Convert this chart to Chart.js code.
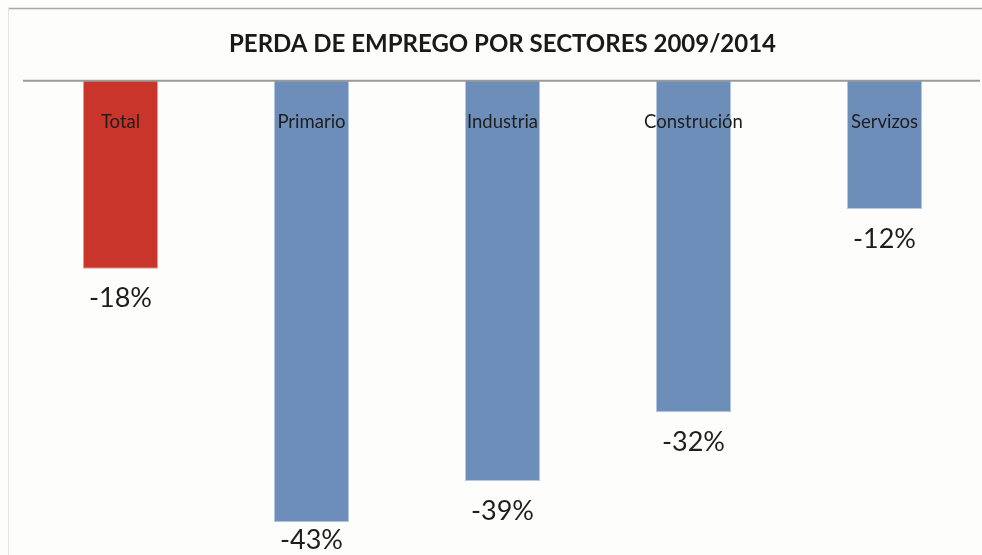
<!DOCTYPE html>
<html>
<head>
<meta charset="utf-8">
<script src="https://cdn.jsdelivr.net/npm/chart.js@4"></script>
<style>
  html, body { margin: 0; padding: 0; background: #fdfdfb; }
  #wrap { width: 982px; height: 555px; }
</style>
</head>
<body>
<div id="wrap"><canvas id="chartJSContainer"></canvas></div>
<script>
var sectors = ['Total', 'Primario', 'Industria', 'Construción', 'Servizos'];
var losses = [-18.3, -43, -39, -32.3, -12.5];
var colours = ['#c9352b', '#6e8eba', '#6e8eba', '#6e8eba', '#6e8eba'];
var borders = ['#e49a94', '#b4c8e2', '#b4c8e2', '#b4c8e2', '#b4c8e2'];
var fontName = 'Lato, "Open Sans", sans-serif';

// frame + zero line + labels on the bars
var decorations = {
  id: 'decorations',
  beforeDraw: function(chart) {
    var ctx = chart.ctx;
    ctx.save();
    ctx.strokeStyle = '#a8a8a8';
    ctx.lineWidth = 1.5;
    ctx.beginPath();
    ctx.moveTo(8, 8.5);
    ctx.lineTo(chart.width, 8.5);
    ctx.stroke();
    ctx.strokeStyle = '#e4e4e4';
    ctx.lineWidth = 1;
    ctx.beginPath();
    ctx.moveTo(8.5, 8);
    ctx.lineTo(8.5, chart.height);
    ctx.stroke();
    ctx.restore();
  },
  afterDatasetsDraw: function(chart) {
    var ctx = chart.ctx;
    var y0 = chart.scales.y.getPixelForValue(0);
    ctx.save();
    ctx.strokeStyle = '#9a9a9a';
    ctx.lineWidth = 2;
    ctx.beginPath();
    ctx.moveTo(chart.chartArea.left - 2, y0);
    ctx.lineTo(chart.chartArea.right, y0);
    ctx.stroke();

    var meta = chart.getDatasetMeta(0);
    ctx.textAlign = 'center';
    ctx.textBaseline = 'middle';
    ctx.fillStyle = '#1e1e1e';
    meta.data.forEach(function(bar, i) {
      ctx.font = '18.5px ' + fontName;
      ctx.fillText(sectors[i], bar.x, y0 + 41);
      ctx.font = '27px ' + fontName;
      var ly = Math.min(bar.y + 30, chart.height - 15);
      ctx.fillText(Math.round(losses[i]) + '%', bar.x, ly);
    });
    ctx.restore();
  }
};

var data = {
  labels: sectors,
  datasets: [{
    name: 'Perda',
    data: losses,
    backgroundColor: colours,
    borderColor: borders,
    borderWidth: 1,
    barPercentage: 1,
    categoryPercentage: 0.393
  }]
};

const options = {
  type: 'bar',
  data: data,
  plugins: [decorations],
  options: {
    responsive: true,
    maintainAspectRatio: false,
    animation: false,
    layout: { padding: { left: 25, right: 2, bottom: 0 } },
    scales: {
      x: { display: false },
      y: { display: false, min: -46.2, max: 0 }
    },
    plugins: {
      legend: { display: false },
      tooltip: { enabled: false },
      title: {
        display: true,
        text: 'PERDA DE EMPREGO POR SECTORES 2009/2014',
        color: '#1a1a1a',
        font: { family: fontName, size: 24, weight: 'bold', lineHeight: 1.2 },
        padding: { top: 30, bottom: 22 }
      }
    }
  }
};

const ctx = document.getElementById('chartJSContainer').getContext('2d');
const chart = new Chart(ctx, options);
</script>
</body>
</html>
